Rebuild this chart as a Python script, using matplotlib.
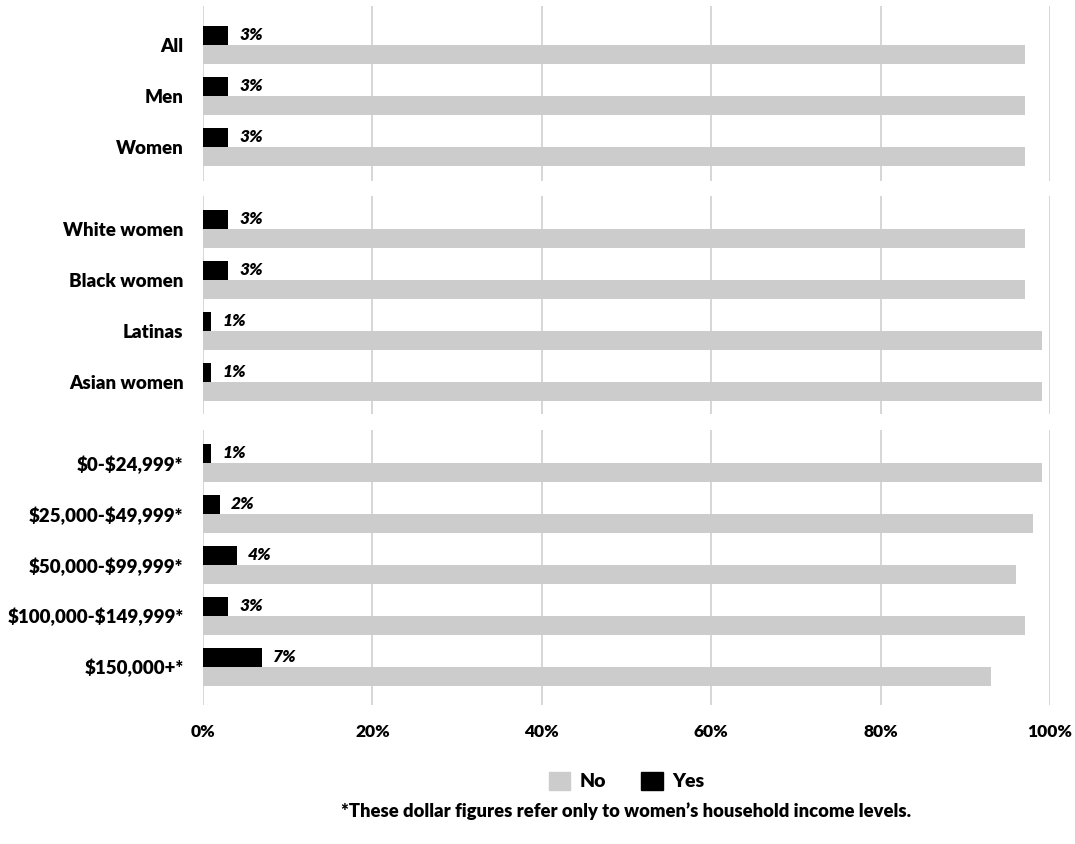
import numpy as np
import matplotlib
matplotlib.use('Agg')
import matplotlib.pyplot as plt
from matplotlib.patches import Patch

plt.rcParams['font.family'] = ['Lato', 'DejaVu Sans']
plt.rcParams['font.weight'] = 'bold'
plt.rcParams['text.parse_math'] = False  # por causa do "$" nos rótulos

# dados por grupo
grupo1 = ['All', 'Men', 'Women']
sim1 = [3, 3, 3]
nao1 = [97, 97, 97]

grupo2 = ['White women', 'Black women', 'Latinas', 'Asian women']
sim2 = [3, 3, 1, 1]
nao2 = [97, 97, 99, 99]

grupo3 = ['$0-$24,999*', '$25,000-$49,999*', '$50,000-$99,999*',
          '$100,000-$149,999*', '$150,000+*']
sim3 = [1, 2, 4, 3, 7]
nao3 = [99, 98, 96, 97, 93]

ticks_x = [0, 20, 40, 60, 80, 100]

cinza = '#cccccc'
preto = '#000000'
grade = '#d3d3d3'
peso = 'heavy'

W, H = 1075, 844
fig = plt.figure(figsize=(W / 100, H / 100), dpi=100)

x0, x1 = 203, 1050
# (topo, base) de cada painel em pixels, com folgas em unidades de linha
paineis = [
    (grupo1, sim1, nao1, 6, 181, 0.76, 0.67),
    (grupo2, sim2, nao2, 196, 414, 0.65, 0.63),
    (grupo3, sim3, nao3, 430, 705, 0.65, 0.75),
]

h = 0.37
for i, (labels, sim, nao, top, bot, pad_top, pad_bot) in enumerate(paineis):
    ax = fig.add_axes([x0 / W, 1 - bot / H, (x1 - x0) / W, (bot - top) / H])
    y = np.arange(len(labels))
    ax.barh(y - h / 2, sim, height=h, color=preto, zorder=3)
    ax.barh(y + h / 2, nao, height=h, color=cinza, zorder=3)
    for yy, v in zip(y, sim):
        ax.annotate(f'{v}%', (v, yy - h / 2), xytext=(8, 0.5), textcoords='offset points',
                    va='center', ha='left', fontsize=12.5, fontweight=peso,
                    fontstyle='italic')
    ax.set_xlim(0, 100)
    ax.set_ylim(len(labels) - 1 + pad_bot, -pad_top)
    ax.set_yticks(y)
    ax.set_yticklabels(labels, fontsize=13.5, fontweight=peso)
    ax.set_xticks(ticks_x)
    ax.grid(axis='x', color=grade, linewidth=1.3, zorder=0)
    ax.tick_params(length=0)
    ax.tick_params(axis='y', pad=14)
    for s in ax.spines.values():
        s.set_visible(False)
    if i == 2:
        ax.set_xticklabels([f'{t}%' for t in ticks_x], fontsize=12.5, fontweight=peso)
        ax.tick_params(axis='x', pad=14)
    else:
        ax.set_xticklabels([])

centro = (x0 + x1) / 2 / W

handles = [Patch(color=cinza, label='No'), Patch(color=preto, label='Yes')]
fig.legend(handles=handles, loc='center', bbox_to_anchor=(centro, 1 - 781 / H), ncol=2,
           frameon=False, handlelength=1.1, handleheight=1.1,
           columnspacing=1.8, handletextpad=0.5, prop={'weight': peso, 'size': 14})

fig.text(centro, 1 - 811 / H,
         '*These dollar figures refer only to women\u2019s household income levels.',
         ha='center', va='center', fontsize=13.2, fontweight=peso)

fig.savefig('out.png', dpi=100)
